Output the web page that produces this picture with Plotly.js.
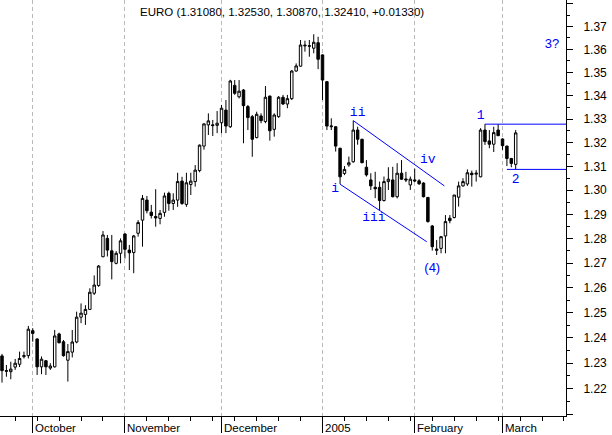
<!DOCTYPE html>
<html>
<head>
<meta charset="utf-8">
<script src="https://cdn.plot.ly/plotly-3.0.1.min.js"></script>
<style>html,body{margin:0;padding:0;background:#fff;}#chart{width:612px;height:435px;}</style>
</head>
<body>
<div id="chart"></div>
<script>
const dates = [
'2004-09-22','2004-09-23','2004-09-24','2004-09-27','2004-09-28','2004-09-29','2004-09-30',
'2004-10-01','2004-10-04','2004-10-05','2004-10-06','2004-10-07','2004-10-08','2004-10-11','2004-10-12','2004-10-13','2004-10-14','2004-10-15','2004-10-18','2004-10-19','2004-10-20','2004-10-21','2004-10-22','2004-10-25','2004-10-26','2004-10-27','2004-10-28','2004-10-29',
'2004-11-01','2004-11-02','2004-11-03','2004-11-04','2004-11-05','2004-11-08','2004-11-09','2004-11-10','2004-11-11','2004-11-12','2004-11-15','2004-11-16','2004-11-17','2004-11-18','2004-11-19','2004-11-22','2004-11-23','2004-11-24','2004-11-25','2004-11-26','2004-11-29','2004-11-30',
'2004-12-01','2004-12-02','2004-12-03','2004-12-06','2004-12-07','2004-12-08','2004-12-09','2004-12-10','2004-12-13','2004-12-14','2004-12-15','2004-12-16','2004-12-17','2004-12-20','2004-12-21','2004-12-22','2004-12-23','2004-12-24','2004-12-27','2004-12-28','2004-12-29','2004-12-30','2004-12-31',
'2005-01-03','2005-01-04','2005-01-05','2005-01-06','2005-01-07','2005-01-10','2005-01-11','2005-01-12','2005-01-13','2005-01-14','2005-01-17','2005-01-18','2005-01-19','2005-01-20','2005-01-21','2005-01-24','2005-01-25','2005-01-26','2005-01-27','2005-01-28','2005-01-31',
'2005-02-01','2005-02-02','2005-02-03','2005-02-04','2005-02-07','2005-02-08','2005-02-09','2005-02-10','2005-02-11','2005-02-14','2005-02-15','2005-02-16','2005-02-17','2005-02-18','2005-02-21','2005-02-22','2005-02-23','2005-02-24','2005-02-25','2005-02-28',
'2005-03-01','2005-03-02','2005-03-03','2005-03-04'
];
const openPrices = [
1.2328,1.2270,1.2266,1.2284,1.2295,1.2325,1.2329,
1.2428,1.2395,1.2285,1.2309,1.2280,1.2285,1.2415,1.2384,1.2311,1.2343,1.2383,1.2482,1.2493,1.2513,1.2578,1.2609,1.2726,1.2801,1.2750,1.2699,1.2740,
1.2819,1.2753,1.2743,1.2822,1.2876,1.2959,1.2909,1.2891,1.2883,1.2908,1.2987,1.2945,1.2959,1.3038,1.2941,1.3024,1.3036,1.3082,1.3185,1.3275,1.3275,1.3273,
1.3284,1.3338,1.3267,1.3444,1.3395,1.3424,1.3353,1.3310,1.3221,1.3313,1.3289,1.3398,1.3256,1.3310,1.3393,1.3364,1.3387,1.3506,1.3527,1.3615,1.3616,1.3605,1.3629,
1.3576,1.3460,1.3267,1.3267,1.3176,1.3070,1.3106,1.3119,1.3253,1.3214,1.3096,1.3043,1.3012,1.3012,1.2957,1.3036,1.3043,1.2973,1.3071,1.3047,1.3022,
1.3043,1.3039,1.3030,1.2970,1.2852,1.2752,1.2760,1.2811,1.2884,1.2887,1.2971,1.3018,1.3026,1.3071,1.3067,1.3056,1.3253,1.3207,1.3193,1.3253,
1.3215,1.3185,1.3133,1.3108
];
const highPrices = [
1.2336,1.2292,1.2305,1.2316,1.2345,1.2345,1.2447,
1.2438,1.2398,1.2326,1.2312,1.2299,1.2431,1.2420,1.2391,1.2375,1.2431,1.2504,1.2537,1.2530,1.2598,1.2650,1.2692,1.2831,1.2815,1.2815,1.2749,1.2801,
1.2822,1.2774,1.2815,1.2876,1.2980,1.2976,1.2939,1.3004,1.2918,1.2990,1.2994,1.2987,1.3073,1.3056,1.3073,1.3073,1.3105,1.3192,1.3282,1.3324,1.3296,1.3334,
1.3360,1.3381,1.3468,1.3467,1.3467,1.3428,1.3360,1.3317,1.3331,1.3324,1.3441,1.3400,1.3324,1.3398,1.3403,1.3403,1.3510,1.3539,1.3641,1.3638,1.3641,1.3666,1.3655,
1.3578,1.3462,1.3303,1.3269,1.3178,1.3101,1.3141,1.3293,1.3267,1.3216,1.3126,1.3071,1.3077,1.3036,1.3057,1.3096,1.3098,1.3113,1.3126,1.3077,1.3057,
1.3090,1.3046,1.3033,1.2972,1.2856,1.2794,1.2811,1.2897,1.2897,1.2980,1.3036,1.3050,1.3087,1.3082,1.3084,1.3261,1.3278,1.3253,1.3267,1.3278,
1.3218,1.3187,1.3135,1.3253
];
const lowPrices = [
1.2223,1.2246,1.2236,1.2273,1.2284,1.2318,1.2318,
1.2384,1.2253,1.2256,1.2253,1.2273,1.2282,1.2378,1.2325,1.2227,1.2322,1.2378,1.2458,1.2451,1.2511,1.2571,1.2604,1.2724,1.2727,1.2634,1.2695,1.2699,
1.2719,1.2672,1.2659,1.2808,1.2767,1.2904,1.2883,1.2849,1.2859,1.2890,1.2915,1.2918,1.2931,1.2939,1.2931,1.2980,1.3015,1.3075,1.3170,1.3232,1.3228,1.3240,
1.3240,1.3240,1.3262,1.3403,1.3388,1.3197,1.3253,1.3140,1.3218,1.3282,1.3282,1.3208,1.3225,1.3305,1.3360,1.3346,1.3381,1.3503,1.3525,1.3590,1.3568,1.3583,1.3514,
1.3381,1.3253,1.3253,1.3162,1.3026,1.3063,1.3098,1.3115,1.3191,1.3113,1.3057,1.3001,1.2967,1.2917,1.2953,1.3001,1.2970,1.2966,1.3043,1.3034,1.3001,
1.3034,1.3022,1.2970,1.2866,1.2751,1.2733,1.2740,1.2740,1.2863,1.2883,1.2932,1.3015,1.3018,1.3015,1.3036,1.3054,1.3190,1.3176,1.3160,1.3228,
1.3169,1.3101,1.3096,1.3087
];
const closePrices = [
1.2270,1.2268,1.2276,1.2299,1.2318,1.2329,1.2434,
1.2417,1.2285,1.2315,1.2285,1.2288,1.2407,1.2380,1.2329,1.2345,1.2383,1.2482,1.2498,1.2513,1.2582,1.2611,1.2688,1.2815,1.2753,1.2706,1.2740,1.2791,
1.2756,1.2742,1.2811,1.2866,1.2966,1.2915,1.2895,1.2885,1.2904,1.2976,1.2945,1.2959,1.3036,1.2945,1.3031,1.3038,1.3084,1.3189,1.3279,1.3292,1.3272,1.3282,
1.3346,1.3270,1.3463,1.3410,1.3419,1.3357,1.3306,1.3214,1.3320,1.3293,1.3393,1.3250,1.3317,1.3393,1.3364,1.3387,1.3506,1.3528,1.3619,1.3618,1.3614,1.3631,1.3557,
1.3467,1.3270,1.3270,1.3185,1.3056,1.3087,1.3115,1.3253,1.3214,1.3115,1.3064,1.3018,1.3006,1.2957,1.3036,1.3046,1.2973,1.3071,1.3046,1.3043,1.3046,
1.3039,1.3027,1.2973,1.2870,1.2767,1.2757,1.2808,1.2870,1.2874,1.2980,1.3018,1.3036,1.3073,1.3065,1.3071,1.3253,1.3204,1.3193,1.3242,1.3229,
1.3187,1.3133,1.3112,1.3241
];

const titleText = 'EURO (1.31080, 1.32530, 1.30870, 1.32410, +0.01330)';
const monthStarts = ['2004-10-01','2004-11-01','2004-12-01','2005-01-03','2005-02-01','2005-03-01'];
const monthLabels = ['October','November','December','2005','February','March'];
const yTickVals = [1.21,1.22,1.23,1.24,1.25,1.26,1.27,1.28,1.29,1.30,1.31,1.32,1.33,1.34,1.35,1.36,1.37,1.38];
const yTickText = ['','1.22','1.23','1.24','1.25','1.26','1.27','1.28','1.29','1.30','1.31','1.32','1.33','1.34','1.35','1.36','1.37',''];
const yMinorVals = [1.215,1.225,1.235,1.245,1.255,1.265,1.275,1.285,1.295,1.305,1.315,1.325,1.335,1.345,1.355,1.365,1.375];

// Elliott wave annotations
const waveLabels = ['i','ii','iii','iv','(4)','1','2','3?'];
const waveLabelX = ['2005-01-05 21:00','2005-01-13','2005-01-18 17:00','2005-02-04','2005-02-07','2005-02-22','2005-03-04','2005-03-16 07:00'];
const waveLabelY = [1.3008,1.3326,1.2887,1.3126,1.2676,1.3315,1.3045,1.3620];
const upperChannelX = ['2005-01-12','2005-02-09 18:00'];
const upperChannelY = [1.3293,1.3018];
const lowerChannelX = ['2005-01-07','2005-02-03 18:00'];
const lowerChannelY = [1.3025,1.2787];
const wave1LineX = ['2005-02-23','2005-03-21 11:00'];
const wave1LineY = [1.3278,1.3278];
const wave2LineX = ['2005-03-02','2005-03-21 11:00'];
const wave2LineY = [1.3087,1.3087];

const blue = '#0000ff';
const lineTrace = (x, y) => ({type:'scatter', mode:'lines', x:x, y:y, line:{color:blue, width:1}, hoverinfo:'skip', showlegend:false});

const traces = [
  {
    type:'candlestick', x:dates, open:openPrices, high:highPrices, low:lowPrices, close:closePrices,
    increasing:{line:{color:'#000', width:1}, fillcolor:'#ffffff'},
    decreasing:{line:{color:'#000', width:1}, fillcolor:'#000000'},
    whiskerwidth:0, hoverinfo:'skip', showlegend:false
  },
  lineTrace(upperChannelX, upperChannelY),
  lineTrace(lowerChannelX, lowerChannelY),
  lineTrace(wave1LineX, wave1LineY),
  lineTrace(wave2LineX, wave2LineY),
  {
    type:'scatter', mode:'text', x:waveLabelX, y:waveLabelY, text:waveLabels,
    textposition:'middle center',
    textfont:{family:['Liberation Mono','Liberation Mono','Liberation Mono','Liberation Mono','Liberation Sans','Liberation Mono','Liberation Mono','Liberation Sans'], size:13, color:blue},
    hoverinfo:'skip', showlegend:false, cliponaxis:false
  }
];

const annotations = [
  {xref:'paper', yref:'paper', x:282/566, y:1, yshift:-12, xanchor:'center', yanchor:'middle', showarrow:false,
   text:titleText, font:{family:'Liberation Sans', size:11.5, color:'#000'}}
];
monthStarts.forEach((d, i) => {
  annotations.push({xref:'x', yref:'paper', x:d, y:0, yshift:-4, xanchor:'left', yanchor:'top', xshift:0,
    showarrow:false, text:monthLabels[i], font:{family:'Liberation Sans', size:11.5, color:'#000'}});
});

const layout = {
  width:612, height:435,
  margin:{l:0, r:46, t:0, b:19, pad:0},
  paper_bgcolor:'#ffffff', plot_bgcolor:'#ffffff',
  showlegend:false, hovermode:false, boxgap:0.2,
  xaxis:{
    type:'date', range:['2004-09-21 13:00','2005-03-21 11:00'],
    rangebreaks:[{bounds:['sat','mon']}],
    rangeslider:{visible:false},
    tickmode:'array', tickvals:monthStarts, showticklabels:false,
    ticks:'outside', ticklen:16, tickwidth:1, tickcolor:'#000',
    showline:true, linecolor:'#000', linewidth:1,
    showgrid:true, gridcolor:'#b9b9b9', gridwidth:1, griddash:'4px,3px',
    minor:{ticks:'outside', ticklen:4, tickwidth:1, tickcolor:'#000', dtick:604800000, tick0:'2004-09-20', showgrid:false},
    zeroline:false, fixedrange:true
  },
  yaxis:{
    type:'log', side:'right', range:[0.082533, 0.140407],
    tickmode:'array', tickvals:yTickVals, ticktext:yTickText,
    ticks:'outside', ticklen:6, tickwidth:1, tickcolor:'#000',
    showline:true, linecolor:'#000', linewidth:1,
    showgrid:false, zeroline:false,
    tickfont:{family:'Liberation Sans', size:12, color:'#000'},
    ticklabelstandoff:8,
    minor:{tickmode:'array', tickvals:yMinorVals, ticks:'outside', ticklen:3, tickwidth:1, tickcolor:'#000', showgrid:false},
    fixedrange:true
  },
  annotations:annotations
};

Plotly.newPlot('chart', traces, layout, {staticPlot:true, displayModeBar:false});
</script>
</body>
</html>
